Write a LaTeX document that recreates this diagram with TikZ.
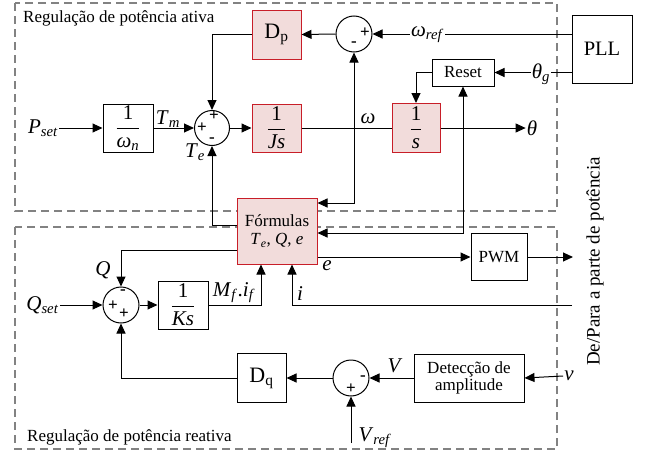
\documentclass[tikz,border=0pt]{standalone}
\usepackage{fontspec}
\setmainfont{Liberation Serif}
\usepackage{amsmath}
\usetikzlibrary{arrows.meta,calc}
\definecolor{boxred}{RGB}{200,30,40}
\definecolor{boxfill}{RGB}{242,220,219}
\definecolor{dashgray}{RGB}{130,130,130}
\newcommand{\fs}[1]{\fontsize{#1}{#1}\selectfont\rmfamily}
\newcommand{\ivar}[2]{\textit{#1}\textsubscript{\textit{#2}}}
\newcommand{\fr}[1]{$\dfrac{\text{1}}{#1}$}
\tikzset{
  blk/.style={draw, line width=1pt, inner sep=0pt, font=\fs{17}},
  redblk/.style={blk, draw=boxred, fill=boxfill},
  sumc/.style={circle, draw, line width=1pt, minimum size=36pt, inner sep=0pt},
  arr/.style={-{Triangle[length=10pt,width=9pt]}},
  sig/.style={font=\fs{17}\bfseries, inner sep=0pt},
  lbl/.style={font=\fs{21}, inner sep=1pt},
  dashbox/.style={draw=dashgray, line width=1.2pt, dash pattern=on 8pt off 5pt},
  wire/.style={line width=1pt}
}
\begin{document}
\begin{tikzpicture}[x=1pt,y=-1pt]
\useasboundingbox (0,0) rectangle (646,455);
% dashed regions
\draw[dashbox] (15,3) rectangle (557,211);
\draw[dashbox] (15,227) rectangle (557,449);
\node[anchor=base west, inner sep=0pt, font=\fs{17}] (t1) at (23,22) {Regulação de potência ativa};
\node[anchor=base west, inner sep=0pt, font=\fs{17}] (t2) at (27,441) {Regulação de potência reativa};

% blocks
\node[redblk, minimum width=49pt, minimum height=49pt, font=\fs{22}] (dp) at (276.5,34.5) {D\textsubscript{p}};
\node[sumc] (s1) at (354,34) {};
\node[blk, minimum width=60pt, minimum height=68pt, font=\fs{20.5}] (pll) at (602,49) {PLL};
\node[blk, minimum width=62pt, minimum height=27pt] (reset) at (463,72.5) {Reset};
\node[redblk, minimum width=48pt, minimum height=49pt, font=\fs{21}] (integ) at (416,128) {\fr{\text{\itshape s}}};
\node[blk, minimum width=50pt, minimum height=48pt, font=\fs{21}] (wn) at (128,128) {\fr{\text{\itshape ω}_{\text{\itshape n}}}};
\node[sumc, minimum size=35pt] (s2) at (212,128) {};
\node[redblk, minimum width=49pt, minimum height=48pt, font=\fs{21}] (js) at (276.5,128) {\fr{\text{\itshape Js}}};
\node[redblk, minimum width=80pt, minimum height=66pt, align=center] (form) at (277,231) {Fórmulas\\[1pt]\ivar{T}{e}, \textit{Q}, \textit{e}};
\node[blk, minimum width=56pt, minimum height=47pt] (pwm) at (499,257) {PWM};
\node[blk, minimum width=50pt, minimum height=48pt, font=\fs{21}] (ks) at (183,305) {\fr{\text{\itshape Ks}}};
\node[sumc] (s3) at (121,305) {};
\node[blk, minimum width=49pt, minimum height=49pt, font=\fs{22}] (dq) at (261.5,378) {D\textsubscript{q}};
\node[sumc] (s4) at (351,378) {};
\node[blk, minimum width=110pt, minimum height=48pt, align=center] (det) at (469,378) {Detecção de\\amplitude};

% signs
\node[sig] (s1p) at (365,33) {+};
\node[sig] (s1m) at (354,44) {-};
\node[sig] (s2t) at (214,116) {+};
\node[sig] (s2l) at (202,128) {+};
\node[sig] (s2b) at (212,140) {-};
\node[sig] (s3t) at (123,292) {-};
\node[sig] (s3l) at (113,306) {+};
\node[sig] (s3b) at (124,314) {+};
\node[sig] (s4r) at (363,378) {-};
\node[sig] (s4b) at (351,389) {+};

% labels
\node[lbl] (pset) at (43,128) {\ivar{P}{set}};
\node[lbl] (tm) at (168,119) {\ivar{T}{m}};
\node[lbl] (te) at (195,152) {\ivar{T}{e}};
\node[lbl] (omega) at (368,119) {\textit{ω}};
\node[lbl] (theta) at (532,128) {\textit{θ}};
\node[lbl] (wref) at (427.5,35) {\ivar{ω}{ref}};
\node[lbl] (thg) at (541,74) {\ivar{θ}{g}};
\node[lbl] (elbl) at (327,266) {\textit{e}};
\node[lbl] (ilbl) at (300,294) {\textit{i}};
\node[lbl] (mf) at (234,293) {\ivar{M}{f}.\ivar{i}{f}};
\node[lbl] (qlbl) at (103,270) {\textit{Q}};
\node[lbl] (qset) at (42.5,305) {\ivar{Q}{set}};
\node[lbl] (vlbl) at (395,366) {\textit{V}};
\node[lbl] (vref) at (375,438) {\ivar{V}{ref}};
\node[lbl] (vsm) at (569,376) {\textit{v}};
\node[rotate=90, font=\fs{19}, inner sep=0pt] (side) at (595,261.5) {De/Para a parte de potência};

% coordinates
\coordinate (jw) at (354,128);
\coordinate (jwb) at (354,203);
\coordinate (jt) at (463,128);
\coordinate (jtb) at (463,233);
\coordinate (teo) at (212,225);
\coordinate (qo) at (121,250);
\coordinate (pwmout) at (573,257);
\coordinate (iin) at (572,305);
\coordinate (ic) at (292,305);
\coordinate (mc) at (261,305);
\coordinate (vin) at (351,443);

% connectors, active power
\draw[wire,arr] (pset) -- (wn.west);
\draw[wire,arr] (wn) -- (s2);
\draw[wire,arr] (s2) -- (js);
\draw[wire] (js) -- (integ);
\draw[wire,arr] (integ) -- (theta.west);
\draw[wire,arr] (dp.west) -- (dp.west -| s2) -- (s2.north);
\draw[wire,arr] (s1.west) -- (dp.east);
\draw[wire] (pll.west |- s1) -- (wref.east |- s1);
\draw[wire,arr] (wref.west |- s1) -- (s1.east);
\draw[wire] (pll.west |- reset) -- (thg.east |- reset);
\draw[wire,arr] (thg.west |- reset) -- (reset.east);
\draw[wire,arr] (reset.west) -- (reset.west -| integ) -- (integ.north);
\draw[wire,arr] (jw) -- (s1.south);
\draw[wire,arr] (jw) -- (jwb) -- (form.east |- jwb);
\draw[wire,arr] (jt) -- (reset.south);
\draw[wire,arr] (jt) -- (jtb) -- (form.east |- jtb);
\draw[wire,arr] (form.west |- teo) -- (teo) -- (s2.south);

% connectors, reactive power
\draw[wire,arr] (form.west |- qo) -- (qo) -- (s3.north);
\draw[wire,arr] (form.east |- pwm.west) -- (pwm.west);
\draw[wire,arr] (pwm.east) -- (pwmout);
\draw[wire,arr] (iin) -- (ic) -- (ic |- form.south);
\draw[wire,arr] (ks.east) -- (mc) -- (mc |- form.south);
\draw[wire,arr] (qset) -- (s3.west);
\draw[wire,arr] (s3) -- (ks);
\draw[wire,arr] (dq.west) -- (dq.west -| s3) -- (s3.south);
\draw[wire,arr] (s4.west) -- (dq.east);
\draw[wire,arr] (det.west) -- (s4.east);
\draw[wire,arr] (vsm.west) -- (det.east);
\draw[wire,arr] (vin) -- (s4.south);
\end{tikzpicture}
\end{document}
